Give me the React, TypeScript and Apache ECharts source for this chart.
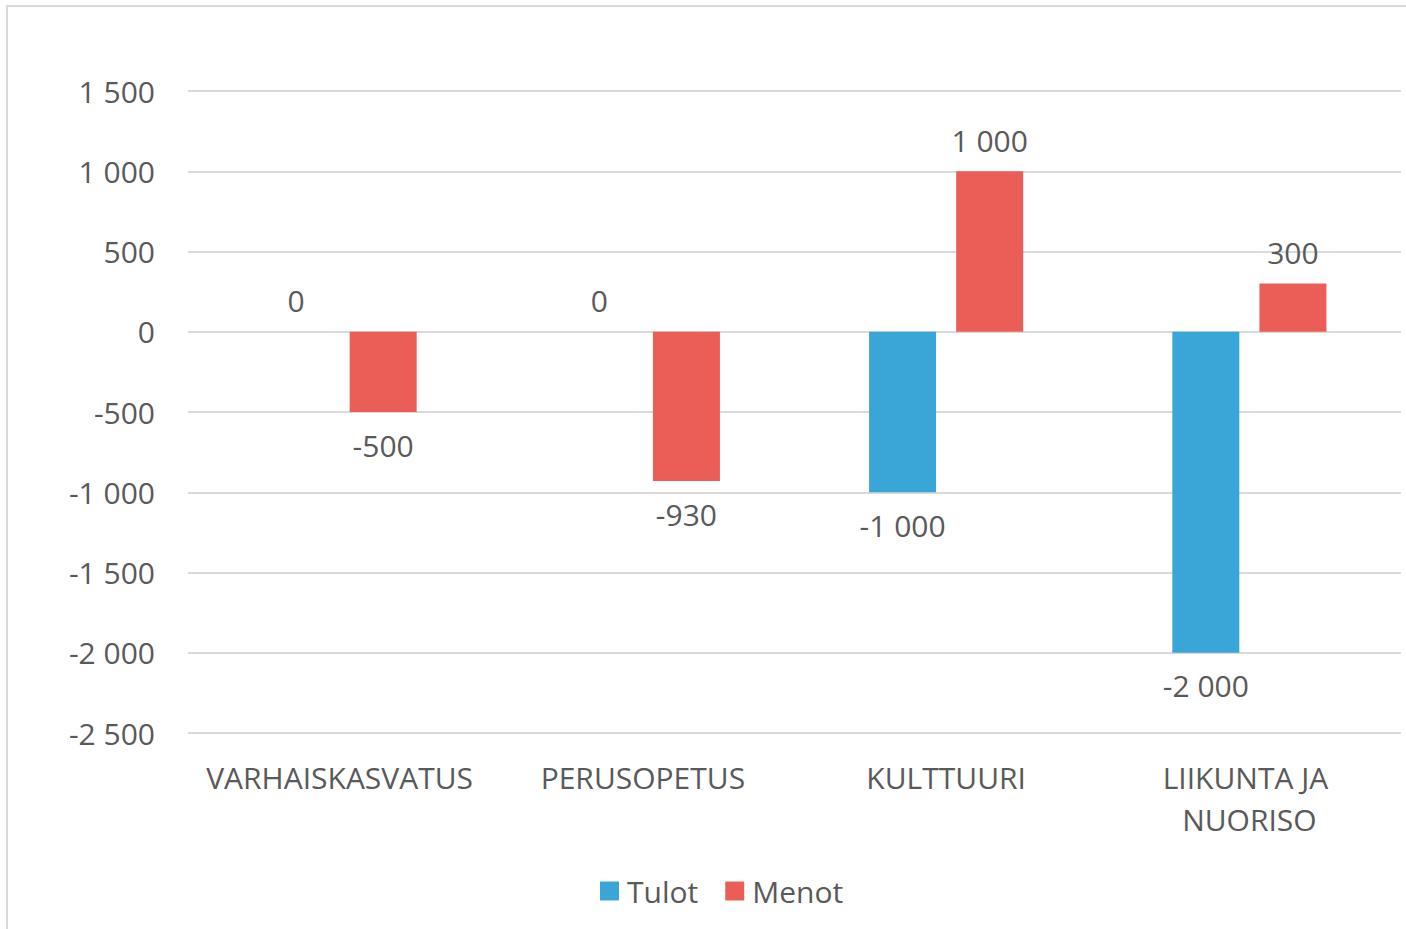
import React, { useEffect, useRef } from "react";
import * as echarts from "echarts";

const categories = ["VARHAISKASVATUS", "PERUSOPETUS", "KULTTUURI", "LIIKUNTA JA NUORISO"];
const seriesNames = ["Tulot", "Menot"];
const tulot = [0, 0, -1000, -2000];
const menot = [-500, -930, 1000, 300];
const colors = ["#3AA6D8", "#EB5E57"];

const FONT = "Open Sans";
const TEXT = "#595959";
const FS = 30;

function fmt(v: number): string {
  const s = String(Math.abs(v)).replace(/\B(?=(\d{3})+(?!\d))/g, " ");
  return (v < 0 ? "-" : "") + s;
}

function buildData(values: number[]) {
  return values.map((v) => ({
    value: v,
    label: {
      position: v < 0 ? "bottom" : "top",
      distance: v < 0 ? 18 : 16,
    },
  }));
}

export default function App() {
  const ref = useRef<HTMLDivElement>(null);
  useEffect(() => {
    if (!ref.current) return;
    const chart = echarts.init(ref.current, null, { renderer: "svg" });
    const labelStyle = {
      show: true,
      color: TEXT,
      fontFamily: FONT,
      fontSize: FS,
      lineHeight: 30,
      formatter: (p: any) => fmt(p.value),
    };
    chart.setOption({
      animation: false,
      backgroundColor: "#ffffff",
      color: colors,
      graphic: [
        {
          type: "rect",
          shape: { x: 7, y: 6, width: 1420, height: 960 },
          style: { fill: "none", stroke: "#d9d9d9", lineWidth: 2 },
          silent: true,
          z: -10,
        },
      ],
      grid: { left: 188, right: 5, top: 91, bottom: 196, containLabel: false },
      legend: {
        left: 595,
        top: 871,
        itemWidth: 19,
        itemHeight: 19,
        itemGap: 27,
        icon: "rect",
        textStyle: { color: TEXT, fontFamily: FONT, fontSize: FS, padding: [0, 0, 0, 3] },
        data: seriesNames,
      },
      xAxis: {
        type: "category",
        data: categories,
        axisLine: { show: false },
        axisTick: { show: false },
        axisLabel: {
          color: TEXT,
          fontFamily: FONT,
          fontSize: FS,
          lineHeight: 42,
          margin: 23,
          width: 300,
          overflow: "break",
          interval: 0,
        },
      },
      yAxis: {
        type: "value",
        min: -2500,
        max: 1500,
        interval: 500,
        axisLine: { show: false },
        axisTick: { show: false },
        splitLine: { lineStyle: { color: "#d9d9d9", width: 2 } },
        axisLabel: {
          color: TEXT,
          fontFamily: FONT,
          fontSize: FS,
          lineHeight: 30,
          margin: 33,
          padding: [0, 0, 4, 0],
          formatter: (v: number) => fmt(v),
        },
      },
      series: [
        {
          name: seriesNames[0],
          type: "bar",
          barWidth: 67,
          barGap: "30%",
          data: buildData(tulot),
          label: labelStyle,
        },
        {
          name: seriesNames[1],
          type: "bar",
          barWidth: 67,
          barGap: "30%",
          data: buildData(menot),
          label: labelStyle,
        },
      ],
    });
    return () => chart.dispose();
  }, []);
  return (
    <div
      ref={ref}
      style={{ position: "fixed", left: 0, top: 0, width: 1406, height: 929, background: "#fff" }}
    />
  );
}
